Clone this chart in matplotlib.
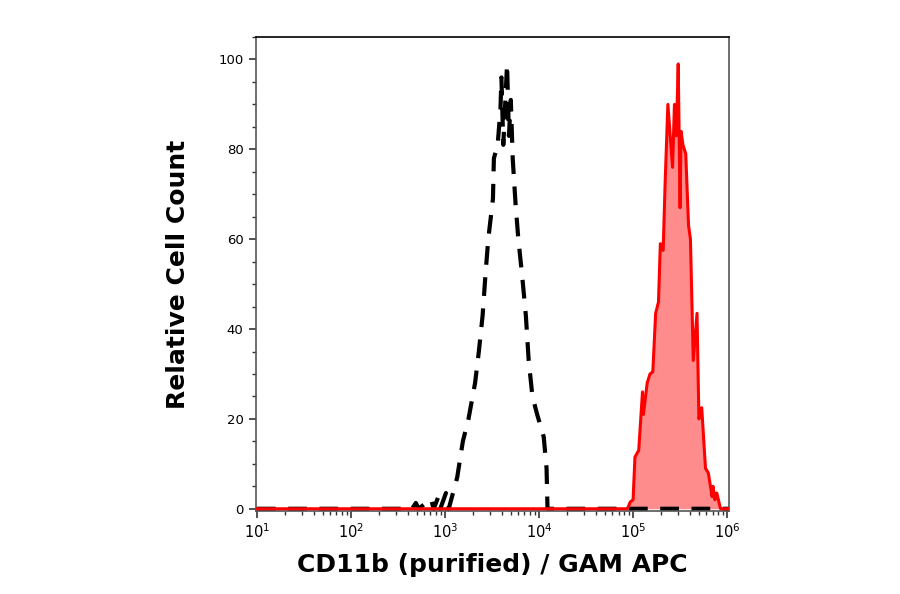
import numpy as np
import matplotlib
matplotlib.use("Agg")
import matplotlib.pyplot as plt
from matplotlib.ticker import LogLocator, MultipleLocator

# isotype / control histogram (log10 of intensity, relative count)
ctrl_log = [1.0, 2.65, 2.69, 2.72, 2.85, 2.88, 2.93, 2.95, 3.01, 3.04, 3.13, 3.19, 3.25, 3.32,
            3.36, 3.40, 3.43, 3.46, 3.51, 3.52, 3.56, 3.59, 3.60, 3.62, 3.66, 3.68,
            3.70, 3.72, 3.75, 3.78, 3.82, 3.86, 3.89, 3.93, 3.98, 4.05, 4.08, 4.09, 6.1]
ctrl_cnt = [0, 0, 1.3, 0, 2.2, 0, 2.7, 0, 3.5, 0, 7, 15, 20, 28,
            35, 43, 52, 60, 69, 78, 81, 89, 96, 81, 99, 83,
            91, 78, 68, 60, 52, 43, 33, 25, 21, 16, 9, 0, 0]

# stained sample histogram
cd11b_log = [1.0, 4.94, 4.97, 5.00, 5.02, 5.06, 5.10, 5.11, 5.15, 5.18, 5.21, 5.24, 5.27,
             5.29, 5.32, 5.34, 5.37, 5.42, 5.44, 5.46, 5.48, 5.50, 5.51, 5.53, 5.56,
             5.59, 5.61, 5.64, 5.68, 5.70, 5.73, 5.77, 5.80, 5.84, 5.85, 5.87, 5.89,
             5.93, 6.1]
cd11b_cnt = [0, 0, 1.5, 2, 11.5, 13, 26, 21, 28, 30, 30.5, 43.5, 46,
             59, 57.5, 72, 90, 76, 90, 83, 99, 67, 84, 81, 79,
             63, 60, 33, 43.5, 20, 22.5, 9, 8, 2.7, 5, 2, 3.5,
             0, 0]

fig = plt.figure(figsize=(9, 5.94), dpi=100)
ax = fig.add_axes([0.2844, 0.1397, 0.5256, 0.798])

x_c = 10 ** np.array(ctrl_log)
x_s = 10 ** np.array(cd11b_log)

ax.fill_between(x_s, cd11b_cnt, 0, color="#ff8c8c", lw=0, zorder=1)
ax.plot(x_c, ctrl_cnt, color="black", lw=3.0, ls=(0, (4.5, 3)), zorder=2)
ax.plot(x_s, cd11b_cnt, color="#ff0000", lw=2.2, zorder=3)

ax.set_xscale("log")
ax.set_xlim(10 ** 0.99, 10 ** 6.02)
ax.set_ylim(-0.5, 105)

ax.xaxis.set_major_locator(LogLocator(base=10, numticks=10))
ax.xaxis.set_minor_locator(LogLocator(base=10, subs=np.arange(2, 10), numticks=20))
ax.yaxis.set_major_locator(MultipleLocator(20))
ax.yaxis.set_minor_locator(MultipleLocator(5))

ax.tick_params(axis="both", which="major", direction="out", length=5, width=1.2,
               color="#333333", labelsize=9.5, pad=4)
ax.tick_params(axis="both", which="minor", direction="out", length=3, width=1,
               color="#333333")
ax.tick_params(axis="x", which="major", labelsize=10.5, pad=3)

for s in ax.spines.values():
    s.set_color("#555555")
    s.set_linewidth(1.2)
ax.spines["top"].set_color("black")

ax.set_xlabel("CD11b (purified) / GAM APC", fontsize=18, fontweight="bold", labelpad=9)
ax.set_ylabel("Relative Cell Count", fontsize=18, fontweight="bold", labelpad=20)

fig.savefig("out.png", dpi=100)
